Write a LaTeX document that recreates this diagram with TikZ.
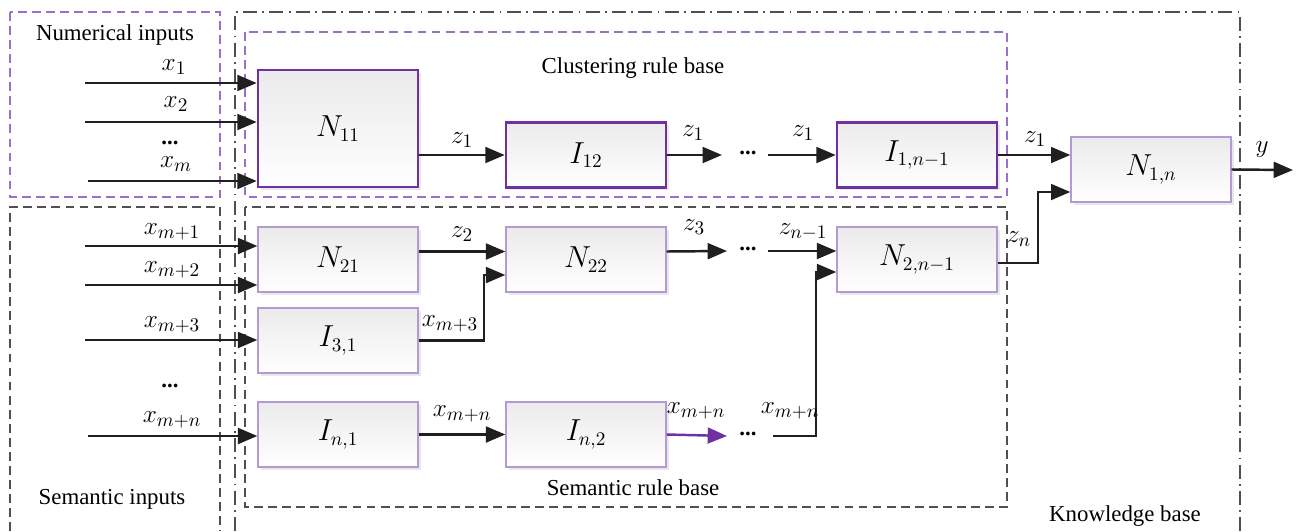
\documentclass[tikz,border=0pt]{standalone}
\usepackage{fontspec}
\setmainfont{Liberation Serif}
\usepackage{tikz}
\usetikzlibrary{arrows.meta,positioning,calc,shadows}
\definecolor{kbpurple}{HTML}{7030A0}
\definecolor{kblav}{HTML}{B49AD2}
\definecolor{kbgray}{HTML}{505050}
\definecolor{kbdash}{HTML}{9A70C8}

\tikzset{
  block/.style={draw=kblav, line width=0.8pt, top color=gray!16, bottom color=white,
    minimum width=3.2cm, minimum height=1.3cm, inner sep=0pt,
    drop shadow={opacity=0.18, shadow xshift=1.5pt, shadow yshift=-1.5pt},
    font=\fontsize{16}{18}\selectfont},
  keyblock/.style={block, draw=kbpurple, line width=1.5pt},
  flow/.style={-{Triangle[length=11pt,width=9pt]}, line width=1.4pt, black!88},
  lbl/.style={inner sep=1pt, font=\fontsize{15}{17}\selectfont},
  caption/.style={inner sep=1pt, font=\fontsize{13}{16}\selectfont},
  gap/.style={inner sep=1pt, font=\bfseries\fontsize{13}{15}\selectfont},
  dashframe/.style={dash pattern=on 5pt off 3pt, line width=0.8pt},
}

\begin{document}
\begin{tikzpicture}[x=0.02cm, y=-0.02cm]
    \useasboundingbox (0,0) rectangle (1298,531);

    % frames
    \draw[kbdash, dashframe] (10,12) rectangle (220,197);
    \draw[kbgray, dashframe] (10,531) -- (10,207) -- (220,207) -- (220,531);
    \draw[kbgray, dash pattern=on 8pt off 3pt on 1pt off 3pt, line width=1pt]
      (235,531) -- (235,12) -- (1240,12) -- (1240,531);
    \draw[kbdash, dashframe] (245,32) rectangle (1007,197);
    \draw[kbgray, dashframe] (245,207) rectangle (1007,507);
    \node[caption] (tnum) at (115,35) {Numerical inputs};
    \node[caption] (tsem) at (112,499) {Semantic inputs};
    \node[caption] (tclu) at (633,68) {Clustering rule base};
    \node[caption] (tsrb) at (633,488) {Semantic rule base};
    \node[caption] (tkb) at (1125,516) {Knowledge base};

    % blocks
    \node[keyblock, minimum height=2.34cm] (n11) at (338,128.5) {$N_{11}$};
    \node[keyblock] (i12) at (586,155) {$I_{12}$};
    \node[keyblock] (i1n) at (917,155) {$I_{1,n-1}$};
    \node[block] (n1n) at (1151,169.5) {$N_{1,n}$};
    \node[block] (n21) at (338,259.5) {$N_{21}$};
    \node[block] (n22) at (586,259.5) {$N_{22}$};
    \node[block] (i31) at (338,340.5) {$I_{3,1}$};
    \node[block] (n2n) at (917,259.5) {$N_{2,n-1}$};
    \node[block] (in1) at (338,434.5) {$I_{n,1}$};
    \node[block] (in2) at (586,434.5) {$I_{n,2}$};

    % numerical inputs
    \coordinate (src1) at (85,83);
    \coordinate (src2) at (85,122);
    \coordinate (srcm) at (88,181);
    \draw[flow] (src1) -- (src1 -| n11.west);
    \draw[flow] (src2) -- (src2 -| n11.west);
    \draw[flow] (srcm) -- (srcm -| n11.west);
    \node[lbl] (lx1) at (174,67) {$x_1$};
    \node[lbl] (lx2) at (176,104) {$x_2$};
    \node[gap] (dnum) at (170,143) {...};
    \node[lbl] (lxm) at (176,164) {$x_m$};

    % semantic inputs
    \coordinate (srcA) at (85,246);
    \coordinate (srcB) at (85,285);
    \coordinate (srcC) at (85,340);
    \coordinate (srcN) at (88,436);
    \draw[flow] (srcA) -- (srcA -| n21.west);
    \draw[flow] (srcB) -- (srcB -| n21.west);
    \draw[flow] (srcC) -- (srcC -| i31.west);
    \draw[flow] (srcN) -- (srcN -| in1.west);
    \node[lbl] (lxa) at (172,232) {$x_{m+1}$};
    \node[lbl] (lxb) at (172,270) {$x_{m+2}$};
    \node[lbl] (lxc) at (172,325) {$x_{m+3}$};
    \node[gap] (dsem) at (170,386) {...};
    \node[lbl] (lxn) at (172,420) {$x_{m+n}$};

    % clustering chain
    \draw[flow] (n11.east |- i12.west) -- (i12.west);
    \node[lbl] (lz1a) at (462,140) {$z_1$};
    \coordinate (c1) at (722,155);
    \coordinate (c2) at (768,155);
    \draw[flow] (i12.east) -- (c1);
    \node[lbl] (lz1b) at (693,133) {$z_1$};
    \node[gap] (dclu) at (748,153) {...};
    \draw[flow] (c2) -- (i1n.west);
    \node[lbl] (lz1c) at (803,133) {$z_1$};
    \draw[flow] (i1n.east) -- (i1n.east -| n1n.west);
    \node[lbl] (lz1d) at (1035,139) {$z_1$};

    % semantic chain
    \draw[flow] ($(n21.east)+(0,-8)$) -- ($(n22.west)+(0,-8)$);
    \node[lbl] (lz2) at (462,234) {$z_2$};
    \draw[flow] (i31.east) -| (484,275) -- (n22.west |- 0,275);
    \node[lbl] (lxc2) at (450,324) {$x_{m+3}$};
    \coordinate (s1) at (727,251);
    \coordinate (s2) at (768,251);
    \draw[flow] ($(n22.east)+(0,-8)$) -- (s1);
    \node[lbl] (lz3) at (694,227) {$z_3$};
    \node[gap] (dsa) at (748,249) {...};
    \draw[flow] (s2) -- (s2 -| n2n.west);
    \node[lbl] (lzn1) at (803,232) {$z_{n-1}$};
    \draw[flow] (in1.east) -- (in2.west);
    \node[lbl] (lxn2) at (462,414) {$x_{m+n}$};
    \coordinate (t1) at (727,436);
    \coordinate (t2) at (773,436);
    \draw[flow, kbpurple] (in2.east) -- (t1);
    \node[lbl] (lxn3) at (696,411) {$x_{m+n}$};
    \node[gap] (dsb) at (748,434) {...};
    \draw[flow] (t2) -| (816,272) -- (n2n.west |- 0,272);
    \node[lbl] (lxn4) at (790,411) {$x_{m+n}$};

    % output
    \draw[flow] ($(n2n.east)+(0,3.5)$) -| (1038,192) -- (n1n.west |- 0,192);
    \node[lbl] (lzn) at (1019,239) {$z_n$};
    \coordinate (out) at (1293,170);
    \draw[flow] (n1n.east) -- (out);
    \node[lbl] (ly) at (1262,150) {$y$};
  \end{tikzpicture}
\end{document}
